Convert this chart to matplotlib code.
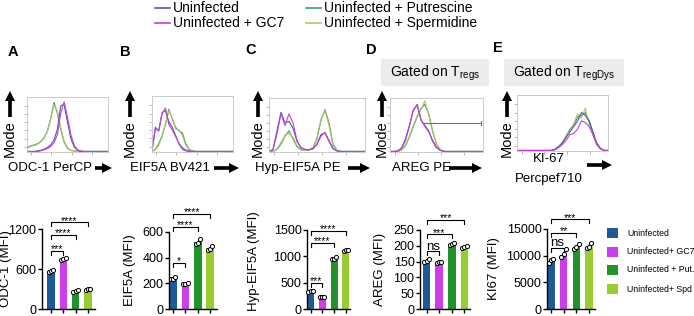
import numpy as np
import matplotlib.pyplot as plt
from matplotlib.patches import FancyArrowPatch, Rectangle
from matplotlib.lines import Line2D

plt.rcParams['font.family'] = ['Liberation Sans', 'DejaVu Sans']
plt.rcParams['mathtext.default'] = 'regular'

W, H = 694, 316

# legend / group names
hist_labels = ['Uninfected', 'Uninfected + GC7', 'Uninfected + Putrescine', 'Uninfected + Spermidine']
bar_labels = ['Uninfected', 'Uninfected+ GC7', 'Uninfected + Put.', 'Uninfected+ Spd']
line_colors = ['#4b5aa8', '#c640d0', '#2ea36b', '#b8c06a']
bar_colors = ['#1f5a96', '#cc3ee8', '#22922a', '#99cc33']

# flow histograms, mode-normalised counts on 25 bins
bins = np.linspace(0, 1, 25)
a_uninf = [0.01, 0.01, 0.01, 0.02, 0.03, 0.05, 0.08, 0.13, 0.22, 0.42, 0.86, 0.88, 0.55, 0.25, 0.09, 0.03, 0.01, 0.01, 0.01, 0.01, 0.01, 0.01, 0.01, 0.01, 0.01]
a_gc7 = [0.01, 0.01, 0.01, 0.01, 0.02, 0.04, 0.06, 0.10, 0.17, 0.32, 0.72, 0.93, 0.65, 0.32, 0.12, 0.04, 0.02, 0.01, 0.01, 0.01, 0.01, 0.01, 0.01, 0.01, 0.01]
a_put = [0.08, 0.11, 0.13, 0.15, 0.19, 0.26, 0.38, 0.62, 0.92, 0.72, 0.42, 0.18, 0.07, 0.03, 0.02, 0.01, 0.01, 0.01, 0.01, 0.01, 0.01, 0.01, 0.01, 0.01, 0.01]
a_spd = [0.07, 0.10, 0.12, 0.14, 0.18, 0.25, 0.37, 0.60, 0.88, 0.75, 0.45, 0.20, 0.08, 0.03, 0.02, 0.01, 0.01, 0.01, 0.01, 0.01, 0.01, 0.01, 0.01, 0.01, 0.01]

b_uninf = [0.02, 0.45, 0.38, 0.72, 0.75, 0.55, 0.45, 0.30, 0.15, 0.05, 0.02, 0.01, 0.01, 0.01, 0.01, 0.01, 0.01, 0.01, 0.01, 0.01, 0.01, 0.01, 0.01, 0.01, 0.01]
b_gc7 = [0.02, 0.42, 0.40, 0.70, 0.80, 0.50, 0.40, 0.28, 0.16, 0.08, 0.04, 0.02, 0.01, 0.01, 0.01, 0.01, 0.01, 0.01, 0.01, 0.01, 0.01, 0.01, 0.01, 0.01, 0.01]
b_put = [0.01, 0.05, 0.15, 0.30, 0.50, 0.78, 0.60, 0.45, 0.38, 0.35, 0.15, 0.05, 0.02, 0.01, 0.01, 0.01, 0.01, 0.01, 0.01, 0.01, 0.01, 0.01, 0.01, 0.01, 0.01]
b_spd = [0.01, 0.04, 0.12, 0.28, 0.52, 0.75, 0.62, 0.42, 0.40, 0.30, 0.12, 0.04, 0.01, 0.01, 0.01, 0.01, 0.01, 0.01, 0.01, 0.01, 0.01, 0.01, 0.01, 0.01, 0.01]

c_uninf = [0.01, 0.05, 0.40, 0.75, 0.55, 0.58, 0.45, 0.20, 0.08, 0.05, 0.04, 0.06, 0.15, 0.33, 0.36, 0.20, 0.06, 0.02, 0.01, 0.01, 0.01, 0.01, 0.01, 0.01, 0.01]
c_gc7 = [0.01, 0.04, 0.35, 0.72, 0.50, 0.72, 0.55, 0.22, 0.08, 0.05, 0.04, 0.06, 0.14, 0.30, 0.37, 0.22, 0.07, 0.02, 0.01, 0.01, 0.01, 0.01, 0.01, 0.01, 0.01]
c_put = [0.01, 0.01, 0.05, 0.15, 0.30, 0.40, 0.25, 0.10, 0.04, 0.03, 0.04, 0.08, 0.25, 0.60, 0.80, 0.55, 0.15, 0.03, 0.01, 0.01, 0.01, 0.01, 0.01, 0.01, 0.01]
c_spd = [0.01, 0.01, 0.06, 0.18, 0.32, 0.35, 0.28, 0.12, 0.05, 0.03, 0.04, 0.09, 0.28, 0.62, 0.78, 0.50, 0.12, 0.03, 0.01, 0.01, 0.01, 0.01, 0.01, 0.01, 0.01]

d_uninf = [0.01, 0.01, 0.02, 0.08, 0.25, 0.50, 0.78, 0.90, 0.60, 0.50, 0.40, 0.20, 0.08, 0.03, 0.01, 0.01, 0.01, 0.01, 0.01, 0.01, 0.01, 0.01, 0.01, 0.01, 0.01]
d_gc7 = [0.01, 0.01, 0.02, 0.07, 0.22, 0.48, 0.80, 0.88, 0.62, 0.48, 0.38, 0.22, 0.09, 0.03, 0.01, 0.01, 0.01, 0.01, 0.01, 0.01, 0.01, 0.01, 0.01, 0.01, 0.01]
d_put = [0.01, 0.01, 0.01, 0.04, 0.12, 0.28, 0.48, 0.66, 0.82, 0.90, 0.72, 0.40, 0.15, 0.04, 0.01, 0.01, 0.01, 0.01, 0.01, 0.01, 0.01, 0.01, 0.01, 0.01, 0.01]
d_spd = [0.01, 0.01, 0.01, 0.04, 0.14, 0.30, 0.50, 0.68, 0.80, 0.97, 0.70, 0.38, 0.14, 0.04, 0.01, 0.01, 0.01, 0.01, 0.01, 0.01, 0.01, 0.01, 0.01, 0.01, 0.01]

e_uninf = [0.01, 0.01, 0.01, 0.01, 0.01, 0.01, 0.01, 0.01, 0.01, 0.01, 0.03, 0.08, 0.15, 0.25, 0.35, 0.45, 0.55, 0.70, 0.65, 0.55, 0.35, 0.15, 0.05, 0.01, 0.01]
e_gc7 = [0.01, 0.01, 0.01, 0.01, 0.01, 0.01, 0.01, 0.01, 0.01, 0.01, 0.02, 0.06, 0.12, 0.20, 0.30, 0.32, 0.40, 0.55, 0.52, 0.45, 0.30, 0.12, 0.04, 0.01, 0.01]
e_put = [0.01, 0.01, 0.01, 0.01, 0.01, 0.01, 0.01, 0.01, 0.01, 0.01, 0.03, 0.08, 0.16, 0.28, 0.40, 0.48, 0.62, 0.65, 0.70, 0.55, 0.35, 0.14, 0.04, 0.01, 0.01]
e_spd = [0.01, 0.01, 0.01, 0.01, 0.01, 0.01, 0.01, 0.01, 0.01, 0.01, 0.03, 0.07, 0.15, 0.27, 0.38, 0.50, 0.68, 0.60, 0.78, 0.50, 0.30, 0.12, 0.04, 0.01, 0.01]

# MFI bar data (mean + replicate points)
odc_mean = [570, 750, 270, 295]
odc_pts = [[555, 575, 590], [740, 755, 765], [260, 272, 280], [285, 298, 305]]
eif_mean = [238, 196, 522, 472]
eif_pts = [[232, 236, 252], [192, 197, 200], [508, 518, 548], [460, 468, 492]]
hyp_mean = [330, 226, 960, 1110]
hyp_pts = [[320, 335, 340], [220, 228, 232], [940, 955, 995], [1100, 1115, 1125]]
areg_mean = [152, 147, 205, 196]
areg_pts = [[150, 153, 157], [144, 148, 150], [203, 207, 210], [194, 197, 200]]
ki67_mean = [9000, 10200, 11600, 11700]
ki67_pts = [[8700, 9100, 9400], [9700, 10300, 11200], [11300, 11700, 12100], [11500, 11700, 12300]]

fig = plt.figure(figsize=(W / 100, H / 100), dpi=100)


def px_axes(l, t, r, b):
    return fig.add_axes([l / W, 1 - b / H, (r - l) / W, (b - t) / H])


def fx(x):
    return x / W


def fy(y):
    return 1 - y / H


def arrow(x0, y0, x1, y1):
    a = FancyArrowPatch((fx(x0), fy(y0)), (fx(x1), fy(y1)), transform=fig.transFigure,
                        arrowstyle='simple,head_length=0.6,head_width=0.6,tail_width=0.22',
                        mutation_scale=12, color='black', lw=0, shrinkA=0, shrinkB=0)
    fig.add_artist(a)


def draw_hist(box, curves, mode_x):
    ax = px_axes(*box)
    order = [2, 3, 0, 1]
    for k in order:
        ax.plot(bins, curves[k], color=line_colors[k], lw=0.8)
    ax.set_xlim(0, 1)
    ax.set_ylim(0, 1.02)
    for s in ax.spines.values():
        s.set_color('#c4c4c4')
        s.set_linewidth(0.6)
    ax.set_xticks([0.05, 0.3, 0.55, 0.8])
    ax.set_yticks(np.arange(0.1, 1.0, 0.15))
    ax.tick_params(length=2, width=0.5, color='#999999', labelleft=False, labelbottom=False)
    fig.text(fx(mode_x), fy(139), 'Mode', rotation=90, ha='center', va='center', fontsize=10.5)
    arrow(mode_x, 117, mode_x, 91)
    return ax


def draw_bars(box, means, pts, ylim, yticks, ylabel, xlim, brackets, lab_dx, lab_y=0.5):
    ax = px_axes(*box)
    x = np.arange(4)
    ax.bar(x, means, width=0.6, color=bar_colors, zorder=2)
    offs = [-0.18, 0.0, 0.18]
    for i in range(4):
        ax.scatter(x[i] + np.array(offs), pts[i], s=9, facecolor='white', edgecolor='black',
                   linewidths=0.7, zorder=3, clip_on=False)
    ax.set_xlim(*xlim)
    ax.set_ylim(*ylim)
    ax.set_yticks(yticks)
    ax.set_xticks(x)
    ax.set_xticklabels([])
    ax.spines['top'].set_visible(False)
    ax.spines['right'].set_visible(False)
    ax.spines['left'].set_linewidth(1.0)
    ax.spines['bottom'].set_linewidth(1.0)
    ax.tick_params(axis='y', length=3, width=1.0, labelsize=9, pad=1)
    ax.tick_params(axis='x', length=3, width=1.0)
    ax.set_ylabel(ylabel, fontsize=9.5)
    # label anchor is the right-hand edge of the rotated text
    ax.yaxis.set_label_coords(-lab_dx / (box[2] - box[0]), lab_y)
    d = ylim[1] * 0.05
    for i, j, y, lab in brackets:
        ax.plot([i, i, j, j], [y - d, y, y, y - d], color='black', lw=0.8, clip_on=False)
        fs = 9.5 if lab == 'ns' else 7.5
        ax.annotate(lab, xy=((i + j) / 2, y), xytext=(0, 1 if lab == 'ns' else -1),
                    textcoords='offset points', ha='center', va='baseline', fontsize=fs,
                    annotation_clip=False)
    return ax


# top legend
leg_rows = [(155, 8), (155, 23), (306, 8), (306, 23)]
for k, (lx, ly) in enumerate(leg_rows):
    fig.add_artist(Line2D([fx(lx), fx(lx + 15)], [fy(ly), fy(ly)], color=line_colors[k], lw=1.2,
                          transform=fig.transFigure))
    fig.text(fx(lx + 18), fy(ly), hist_labels[k], ha='left', va='center', fontsize=10)

# panel letters
for lab, (px, py) in zip('ABCDE', [(13, 52), (125, 52), (251, 50), (371, 50), (498, 48)]):
    fig.text(fx(px), fy(py), lab, ha='center', va='center', fontsize=10.5, fontweight='bold')

# gated boxes
for (l, t, r, b), txt in [((381, 59, 489, 86), 'Gated on T$_{regs}$'),
                          ((504, 59, 624, 86), 'Gated on T$_{regDys}$')]:
    fig.add_artist(Rectangle((fx(l), fy(b)), (r - l) / W, (b - t) / H, transform=fig.transFigure,
                             facecolor='#ececec', edgecolor='none'))
    fig.text(fx((l + r) / 2), fy((t + b) / 2 + 1), txt, ha='center', va='center', fontsize=10)

draw_hist((27, 97, 108, 152), [a_uninf, a_gc7, a_put, a_spd], 10)
draw_hist((152, 96, 233, 152), [b_uninf, b_gc7, b_put, b_spd], 130)
draw_hist((269, 98, 365, 152), [c_uninf, c_gc7, c_put, c_spd], 258)
axd = draw_hist((390, 98, 483, 152), [d_uninf, d_gc7, d_put, d_spd], 382)
axd.plot([0.36, 0.98], [0.55, 0.55], color='#707070', lw=0.8)
axd.plot([0.98, 0.98], [0.51, 0.59], color='#707070', lw=0.8)
draw_hist((517, 95, 608, 151), [e_uninf, e_gc7, e_put, e_spd], 507)

# histogram x labels
for txt, x0, y0, a0, a1 in [('ODC-1 PerCP', 8, 168, 95, 112), ('EIF5A BV421', 130, 168, 214, 239),
                            ('Hyp-EIF5A PE', 255, 168, 348, 370), ('AREG PE', 392, 168, 449, 482)]:
    fig.text(fx(x0), fy(y0), txt, ha='left', va='center', fontsize=9.5)
    arrow(a0, y0, a1, y0)
fig.text(fx(549), fy(159), 'KI-67', ha='center', va='center', fontsize=9.5)
fig.text(fx(549), fy(179), 'Percpef710', ha='center', va='center', fontsize=9.5)
arrow(587, 165, 612, 165)

# bar panels
draw_bars((42, 229, 95, 309), odc_mean, odc_pts, (0, 1200), [0, 600, 1200], 'ODC-1 (MFI)', (-0.73, 3.57),
          [(0, 1, 870, '***'), (0, 2, 1110, '****'), (0, 3, 1300, '****')], 30)
draw_bars((169, 232, 217, 309), eif_mean, eif_pts, (0, 600), [0, 200, 400, 600], 'EIF5A (MFI)', (-0.33, 3.55),
          [(0, 1, 360, '*'), (0, 2, 640, '****'), (0, 3, 740, '****')], 33)
draw_bars((307, 230, 350, 309), hyp_mean, hyp_pts, (0, 1500), [0, 500, 1000, 1500], 'Hyp-EIF5A (MFI)', (-0.3, 3.35),
          [(0, 1, 494, '***'), (0, 2, 1250, '****'), (0, 3, 1480, '****')], 47, 0.6)
draw_bars((420, 230, 470, 309), areg_mean, areg_pts, (0, 250), [0, 50, 100, 150, 200, 250], 'AREG (MFI)', (-0.53, 3.45),
          [(0, 1, 182, 'ns'), (0, 2, 236, '***'), (0, 3, 282, '***')], 34)
draw_bars((547, 229, 595, 309), ki67_mean, ki67_pts, (0, 15000), [0, 5000, 10000, 15000], 'KI67 (MFI)', (-0.31, 3.47),
          [(0, 1, 11500, 'ns'), (0, 2, 14300, '**'), (0, 3, 16800, '***')], 47)

# bar legend
for k, ly in enumerate([233, 252, 270, 289]):
    fig.add_artist(Rectangle((fx(607), fy(ly + 5)), 11 / W, 10 / H, transform=fig.transFigure,
                             facecolor=bar_colors[k], edgecolor='none'))
    fig.text(fx(627), fy(ly), bar_labels[k], ha='left', va='center', fontsize=6.3)

fig.savefig('out.png', dpi=100)
